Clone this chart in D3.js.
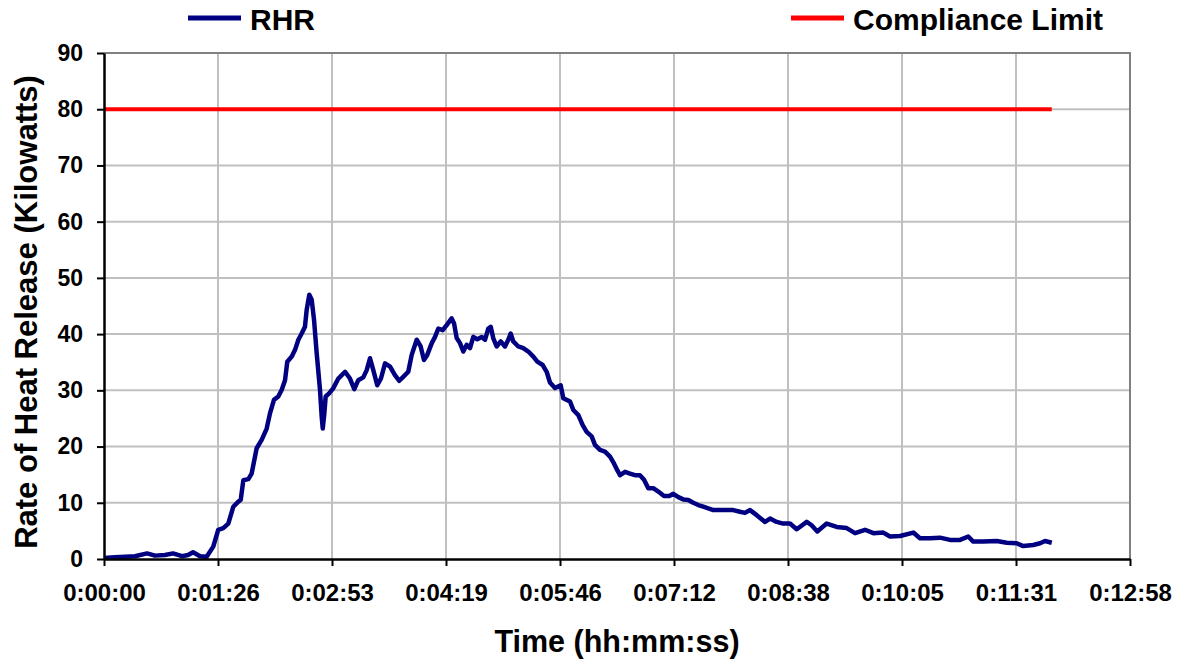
<!DOCTYPE html>
<html>
<head>
<meta charset="utf-8">
<script src="https://cdn.jsdelivr.net/npm/d3@7"></script>
<style>
  body { margin: 0; background: #fff; }
  svg { font-family: "Liberation Sans", Arial, sans-serif; font-weight: bold; }
</style>
</head>
<body>
<div id="chart"></div>
<script>
// rate of heat release, time in seconds, kW
var rhrSeconds = [0, 8.3, 15.9, 23.5, 32.6, 38.7, 46.2, 52.3, 59.1, 63.7, 67.5, 72.8, 77.8, 82.8, 86.6, 90.4, 94.2, 98.0, 101.8, 103.6,
  105.6, 109.4, 111.9, 115.7, 119.5, 123.3, 125.8, 128.8, 132.1, 134.7, 137.2, 138.9, 142.3, 144.8, 147.3, 149.8, 152.3, 153.6, 155.6, 157.4,
  159.2, 161.2, 163.7, 165.0, 165.8, 167.0, 168.0, 170.8, 173.8, 177.6, 178.9, 182.7, 186.4, 189.7, 192.7, 196.5, 199.1, 201.6, 204.1, 207.1,
  209.9, 213.0, 216.8, 220.5, 223.8, 226.8, 230.6, 233.2, 237.0, 240.0, 242.5, 245.0, 248.4, 250.9, 253.4, 256.7, 259.7, 263.5, 265.3, 267.3,
  269.8, 272.3, 274.9, 277.4, 279.9, 282.9, 286.3, 288.8, 291.3, 293.1, 295.0, 297.6, 300.7, 303.9, 306.4, 308.2, 310.2, 314.0, 317.8, 321.6,
  325.4, 328.4, 332.5, 335.5, 338.0, 341.8, 346.1, 348.1, 353.2, 355.7, 359.5, 362.8, 365.8, 369.6, 372.1, 375.9, 379.7, 383.5, 386.5, 389.0,
  391.1, 394.9, 398.6, 402.4, 406.2, 409.3, 412.5, 416.3, 420.1, 424.4, 428.4, 431.5, 435.3, 439.0, 442.8, 446.6, 450.4, 454.2, 458.0, 461.8,
  466.9, 471.9, 476.9, 482.0, 485.8, 489.6, 494.7, 501.0, 504.8, 509.8, 514.8, 519.9, 525.0, 532.6, 536.3, 540.6, 547.7, 555.3, 562.9, 569.2,
  576.8, 583.1, 590.6, 595.7, 603.3, 613.4, 618.4, 626.0, 633.6, 641.2, 648.8, 655.0, 658.8, 666.4, 676.6, 684.2, 691.7, 696.7, 704.3, 709.4,
  713.2, 718.3]
var rhrKw = [0.2, 0.3, 0.4, 0.5, 1.0, 0.6, 0.7, 1.0, 0.5, 0.7, 1.2, 0.5, 0.4, 2.2, 5.2, 5.5, 6.3, 9.3, 10.2, 10.5,
  14.0, 14.2, 15.2, 19.7, 21.2, 23.2, 25.9, 28.3, 28.9, 30.1, 31.8, 35.1, 36.0, 37.2, 39.0, 40.1, 41.3, 44.3, 47.0, 46.1,
  42.5, 36.6, 30.1, 25.3, 23.2, 25.9, 28.9, 29.5, 30.4, 32.1, 32.4, 33.3, 32.1, 30.2, 31.8, 32.3, 33.6, 35.7, 33.6, 30.9,
  32.1, 34.8, 34.2, 32.7, 31.7, 32.4, 33.3, 36.3, 39.0, 37.8, 35.4, 36.3, 38.4, 39.5, 41.0, 40.7, 41.6, 42.8, 41.9, 39.3,
  38.4, 36.9, 38.1, 37.5, 39.5, 39.1, 39.5, 39.0, 41.0, 41.3, 39.3, 37.8, 38.7, 37.8, 39.0, 40.1, 38.7, 37.8, 37.5, 36.9,
  36.0, 35.1, 34.5, 33.3, 31.4, 30.4, 30.9, 28.6, 28.0, 26.5, 25.6, 23.8, 22.6, 21.8, 20.3, 19.4, 19.1, 18.2, 17.0, 15.8,
  14.9, 15.5, 15.2, 14.9, 14.9, 14.1, 12.6, 12.6, 12.0, 11.2, 11.2, 11.6, 11.0, 10.6, 10.5, 10.0, 9.6, 9.3, 9.0, 8.7,
  8.7, 8.7, 8.7, 8.4, 8.2, 8.7, 7.8, 6.6, 7.2, 6.6, 6.3, 6.3, 5.3, 6.6, 6.0, 4.9, 6.3, 5.7, 5.5, 4.6,
  5.2, 4.6, 4.7, 4.0, 4.1, 4.7, 3.7, 3.7, 3.8, 3.4, 3.4, 4.0, 3.1, 3.1, 3.2, 2.9, 2.8, 2.3, 2.5, 2.8,
  3.2, 2.9]

// compliance limit, flat
var limitSeconds = [0, 718.3]
var limitKw = [80, 80]

// axis ticks
var xTickSeconds = [0, 86.4, 172.8, 259.2, 345.6, 432, 518.4, 604.8, 691.2, 777.6]
var xTickLabels = ['0:00:00', '0:01:26', '0:02:53', '0:04:19', '0:05:46', '0:07:12', '0:08:38', '0:10:05', '0:11:31', '0:12:58']
var yTicks = [0, 10, 20, 30, 40, 50, 60, 70, 80, 90]

var seriesNames = ['RHR', 'Compliance Limit']
var seriesColors = ['#000080', '#ff0000']

var width = 1186, height = 663
var margin = { top: 53, right: 56, bottom: 104, left: 104 }

var svg = d3.select('#chart').append('svg')
  .attr('width', width)
  .attr('height', height)

var x = d3.scaleLinear().domain([0, 777.6]).range([margin.left, width - margin.right])
var y = d3.scaleLinear().domain([0, 90]).range([height - margin.bottom, margin.top])

// grid
svg.append('g')
  .selectAll('line.vg')
  .data(xTickSeconds.slice(1, -1))
  .enter().append('line')
  .attr('x1', d => x(d)).attr('x2', d => x(d))
  .attr('y1', y(0)).attr('y2', y(90))
  .attr('stroke', '#c0c0c0').attr('stroke-width', 2)
svg.append('g')
  .selectAll('line.hg')
  .data(yTicks.slice(1, -1))
  .enter().append('line')
  .attr('x1', x(0)).attr('x2', x(777.6))
  .attr('y1', d => y(d)).attr('y2', d => y(d))
  .attr('stroke', '#c0c0c0').attr('stroke-width', 2)

// top and right frame
svg.append('path')
  .attr('d', 'M' + x(0) + ',' + y(90) + 'H' + x(777.6) + 'V' + y(0))
  .attr('fill', 'none').attr('stroke', '#808080').attr('stroke-width', 2)

// the lines
var valueline = d3.line()
  .x(d => x(d[0]))
  .y(d => y(d[1]))

svg.append('path')
  .datum(limitSeconds.map((s, i) => [s, limitKw[i]]))
  .attr('d', valueline)
  .attr('fill', 'none')
  .attr('stroke', seriesColors[1])
  .attr('stroke-width', 4)

svg.append('path')
  .datum(rhrSeconds.map((s, i) => [s, rhrKw[i]]))
  .attr('d', valueline)
  .attr('fill', 'none')
  .attr('stroke', seriesColors[0])
  .attr('stroke-width', 4.5)
  .attr('stroke-linejoin', 'round')

// axes
var xAxis = svg.append('g')
  .attr('transform', 'translate(0,' + y(0) + ')')
  .call(d3.axisBottom(x)
    .tickValues(xTickSeconds)
    .tickFormat((d, i) => xTickLabels[i])
    .tickSize(7).tickSizeOuter(0).tickPadding(13))
var yAxis = svg.append('g')
  .attr('transform', 'translate(' + x(0) + ',0)')
  .call(d3.axisLeft(y)
    .tickValues(yTicks)
    .tickSize(7).tickSizeOuter(0).tickPadding(14))

for (let ax of [xAxis, yAxis]) {
  ax.select('.domain').attr('stroke', '#000').attr('stroke-width', 2.5)
  ax.selectAll('.tick line').attr('stroke', '#000').attr('stroke-width', 2)
  ax.selectAll('.tick text')
    .attr('fill', '#000')
    .style('font-family', '"Liberation Sans", Arial, sans-serif')
    .style('font-weight', 'bold')
    .style('font-size', '23px')
}
xAxis.selectAll('.tick text').attr('dy', '0.9em').style('font-size', '24px')

// titles
svg.append('text')
  .attr('x', (x(0) + x(777.6)) / 2)
  .attr('y', 652)
  .attr('text-anchor', 'middle')
  .style('font-size', '30.5px')
  .text('Time (hh:mm:ss)')
svg.append('text')
  .attr('transform', 'translate(37,312) rotate(-90)')
  .attr('text-anchor', 'middle')
  .style('font-size', '31px')
  .text('Rate of Heat Release (Kilowatts)')

// legend
var legendX = [188, 791]
var legend = svg.append('g')
  .selectAll('g')
  .data(seriesNames)
  .enter().append('g')
  .attr('transform', (d, i) => 'translate(' + legendX[i] + ',18)')
legend.append('line')
  .attr('x1', 0).attr('x2', 53)
  .attr('stroke', (d, i) => seriesColors[i])
  .attr('stroke-width', 5)
legend.append('text')
  .attr('x', 62)
  .attr('y', 12)
  .style('font-size', '30px')
  .text(d => d)
</script>
</body>
</html>
